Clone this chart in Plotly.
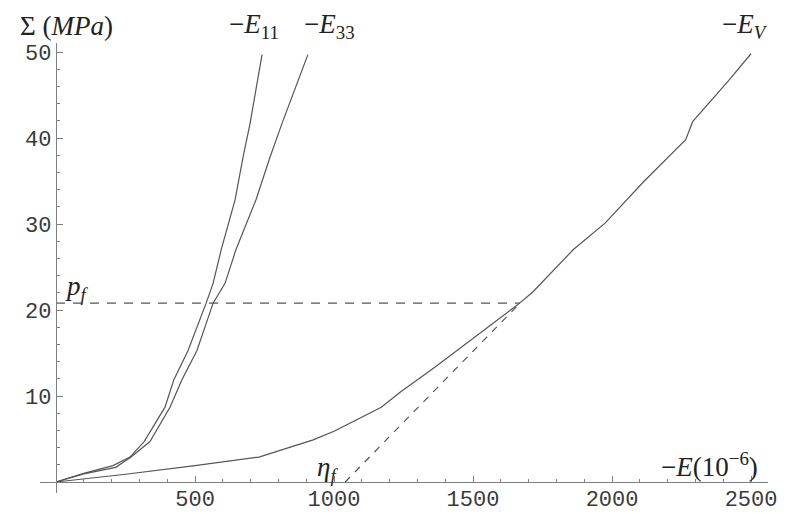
import plotly.graph_objects as go

# ---- data ----
e11_strain = [0, 100, 205, 266, 317, 392, 424, 475, 540, 565, 594, 644, 673, 698, 741]
e11_stress = [0, 1.0, 1.9, 2.9, 4.7, 8.7, 11.9, 15.3, 20.8, 23.1, 27.0, 32.8, 37.8, 41.7, 49.7]

e33_strain = [0, 100, 215, 270, 338, 410, 453, 507, 565, 608, 647, 719, 770, 813, 906]
e33_stress = [0, 0.95, 1.7, 2.9, 4.7, 8.7, 11.9, 15.3, 20.8, 23.1, 27.0, 32.8, 37.8, 41.7, 49.7]

ev_strain = [0, 250, 500, 730, 925, 1000, 1170, 1240, 1365, 1525, 1660, 1715, 1860, 1975, 2110, 2265, 2290, 2420, 2500]
ev_stress = [0, 0.9, 1.9, 2.9, 4.9, 5.9, 8.7, 10.5, 13.4, 17.3, 20.6, 22.1, 27.0, 30.1, 34.8, 39.8, 41.9, 46.7, 49.8]

p_f = 20.8          # stress at the knee
knee_strain = 1669  # strain where p_f meets the E_V curve
eta_f = 1040        # intercept of tangent on strain axis

x_ticks = [500, 1000, 1500, 2000, 2500]
y_ticks = [10, 20, 30, 40, 50]
x_minor = [v for v in range(100, 2600, 100) if v % 500]
y_minor = [v for v in range(2, 52, 2) if v % 10]

x_range = [-57.6, 2561]
y_range = [-1.28, 51.05]

curve_color = "#555555"
axis_color = "#808080"

fig = go.Figure()
for xs, ys in [(e11_strain, e11_stress), (e33_strain, e33_stress), (ev_strain, ev_stress)]:
    fig.add_trace(go.Scatter(x=xs, y=ys, mode="lines",
                             line=dict(color=curve_color, width=1.2),
                             showlegend=False, hoverinfo="skip"))

fig.add_trace(go.Scatter(x=[0, knee_strain], y=[p_f, p_f], mode="lines",
                         line=dict(color=curve_color, width=1.2, dash="9px,8px"),
                         showlegend=False, hoverinfo="skip"))
fig.add_trace(go.Scatter(x=[eta_f, knee_strain], y=[0, p_f], mode="lines",
                         line=dict(color=curve_color, width=1.2, dash="7px,7px"),
                         showlegend=False, hoverinfo="skip"))

tick_font = dict(family="Liberation Mono", size=22, color="#3a3a3a")
math_font = dict(family="Liberation Serif", size=27, color="#222222")

common = dict(anchor="free", showline=True, linecolor=axis_color, linewidth=1.3,
              showgrid=False, zeroline=False, automargin=False,
              tickmode="array", ticks="inside", ticklen=6,
              tickcolor=axis_color, tickwidth=1, tickfont=tick_font)

fig.update_xaxes(range=x_range,
                 position=(0 - y_range[0]) / (y_range[1] - y_range[0]),
                 tickvals=x_ticks, ticklabelstandoff=-4,
                 minor=dict(tickmode="array", tickvals=x_minor, ticks="inside",
                            ticklen=3, tickcolor=axis_color, showgrid=False),
                 **common)
fig.update_yaxes(range=y_range,
                 position=(0 - x_range[0]) / (x_range[1] - x_range[0]),
                 tickvals=y_ticks,
                 minor=dict(tickmode="array", tickvals=y_minor, ticks="inside",
                            ticklen=3, tickcolor=axis_color, showgrid=False),
                 **common)

# labels above the plot area (paper coordinates)
top_labels = [
    (0.036, 1.038, "Σ (<i>MPa</i>)"),
    (0.294, 1.038, "−<i>E</i><sub>11</sub>"),
    (0.398, 1.038, "−<i>E</i><sub>33</sub>"),
    (0.968, 1.038, "−<i>E</i><sub><i>V</i></sub>"),
]
for x, y, t in top_labels:
    fig.add_annotation(x=x, y=y, xref="paper", yref="paper", text=t,
                       showarrow=False, font=math_font,
                       xanchor="center", yanchor="middle")

# labels inside the plot area (data coordinates)
inner_labels = [
    (2349, 2.0, "−<i>E</i>(10<sup>−6</sup>)"),
    (76, 22.6, "<i>p</i><sub><i>f</i></sub>"),
    (978, 1.5, "<i>η</i><sub><i>f</i></sub>"),
]
for x, y, t in inner_labels:
    fig.add_annotation(x=x, y=y, text=t, showarrow=False, font=math_font,
                       xanchor="center", yanchor="middle")

fig.update_layout(width=786, height=514,
                  margin=dict(l=40, r=18, t=43, b=21),
                  plot_bgcolor="white", paper_bgcolor="white")

fig.write_html("out.html")
